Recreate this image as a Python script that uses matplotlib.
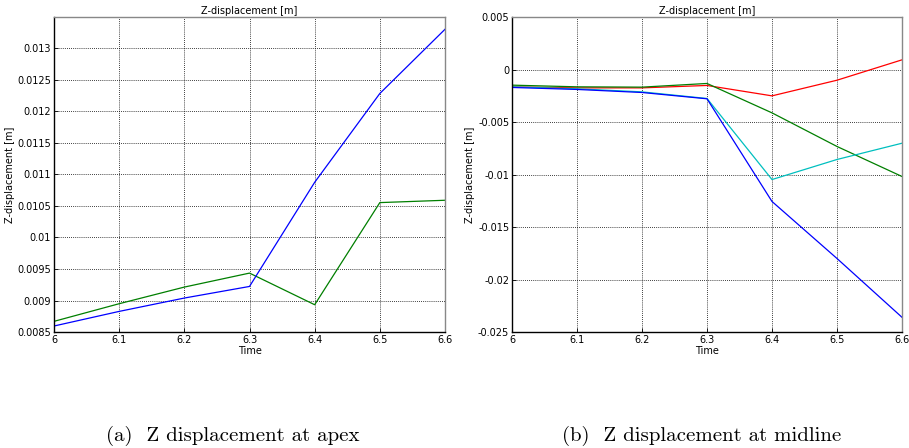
import numpy as np
import matplotlib.pyplot as plt

time = [6.0, 6.1, 6.2, 6.3, 6.4, 6.5, 6.6]

# (a) apex
apex_blue = [0.008595, 0.008827, 0.009039, 0.009223, 0.010876, 0.012286, 0.013305]
apex_green = [0.008669, 0.008949, 0.009213, 0.009435, 0.008933, 0.010554, 0.010591]

# (b) midline
mid_red = [-0.00165, -0.00175, -0.00175, -0.00152, -0.00251, -0.00102, 0.00092]
mid_green = [-0.00149, -0.00165, -0.00168, -0.00133, -0.00413, -0.00733, -0.01019]
mid_cyan = [-0.00165, -0.00184, -0.00213, -0.00276, -0.01048, -0.00857, -0.00702]
mid_blue = [-0.00171, -0.00190, -0.00219, -0.00279, -0.01257, -0.01800, -0.02360]

fig = plt.figure(figsize=(9.09, 4.48), dpi=100)
W, H = 909, 448


def style(ax, yticks, ylim):
    ax.set_xlim(6.0, 6.6)
    ax.set_ylim(*ylim)
    ax.set_xticks(time)
    ax.set_xticklabels(['6', '6.1', '6.2', '6.3', '6.4', '6.5', '6.6'])
    ax.set_yticks(yticks)
    ax.set_yticklabels([('%g' % v) if v != 0 else '0' for v in yticks])
    ax.tick_params(direction='in', length=3, width=0.6, labelsize=7, pad=2,
                   top=False, right=False)
    ax.grid(True, color='black', linestyle=(0, (1, 1.5)), linewidth=0.6)
    for s in ['top', 'right']:
        ax.spines[s].set_color('#888888')
        ax.spines[s].set_linewidth(1.0)
    for s in ['left', 'bottom']:
        ax.spines[s].set_linewidth(1.0)
    ax.set_title('Z-displacement [m]', fontsize=7, pad=2)
    ax.set_xlabel('Time', fontsize=7, labelpad=1)
    ax.set_ylabel('Z-displacement [m]', fontsize=7, labelpad=2)


ax1 = fig.add_axes([54 / W, 1 - 332 / H, (445 - 54) / W, (332 - 17) / H])
ax1.plot(time, apex_green, color='#007f00', lw=0.9)
ax1.plot(time, apex_blue, color='#0000ff', lw=0.9)
style(ax1, np.arange(0.0085, 0.01301, 0.0005), (0.0085, 0.0135))

ax2 = fig.add_axes([512 / W, 1 - 332 / H, (902 - 512) / W, (332 - 17) / H])
ax2.plot(time, mid_red, color='#ff0000', lw=0.9)
ax2.plot(time, mid_green, color='#007f00', lw=0.9)
ax2.plot(time, mid_cyan, color='#00bfbf', lw=0.9)
ax2.plot(time, mid_blue, color='#0000ff', lw=0.9)
style(ax2, [-0.025, -0.02, -0.015, -0.01, -0.005, 0, 0.005], (-0.025, 0.005))

fig.text(233 / W, 1 - 436 / H, '(a)  Z displacement at apex', ha='center', va='center',
         fontsize=15, family='cmr10')
fig.text(702 / W, 1 - 436 / H, '(b)  Z displacement at midline', ha='center', va='center',
         fontsize=15, family='cmr10')

fig.savefig('out.png', dpi=100)
